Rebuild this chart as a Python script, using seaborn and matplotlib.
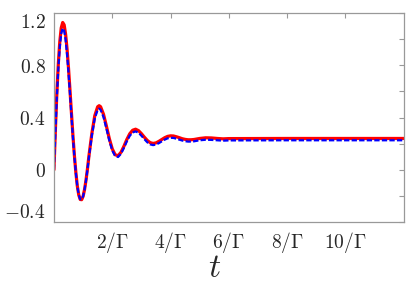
import pandas as pd
import matplotlib.pyplot as plt
import seaborn as sns

# values (time in units of 1/Gamma)
t = [0.00, 0.05, 0.10, 0.15, 0.20, 0.25, 0.30, 0.35, 0.40, 0.45,
     0.50, 0.55, 0.60, 0.65, 0.70, 0.75, 0.80, 0.85, 0.90, 0.95,
     1.00, 1.05, 1.10, 1.15, 1.20, 1.25, 1.30, 1.40, 1.50, 1.55,
     1.60, 1.70, 1.80, 1.90, 2.00, 2.10, 2.20, 2.30, 2.40, 2.50,
     2.60, 2.70, 2.80, 2.90, 3.00, 3.10, 3.20, 3.30, 3.40, 3.50,
     3.60, 3.70, 3.80, 3.90, 4.00, 4.10, 4.20, 4.30, 4.40, 4.50,
     4.60, 4.70, 4.80, 5.00, 5.20, 5.40, 5.60, 5.80, 6.00, 8.00,
     10.00, 12.00]
red = [0.000, 0.310, 0.586, 0.812, 0.980, 1.087, 1.128, 1.110, 1.038, 0.923,
       0.776, 0.609, 0.435, 0.266, 0.113, -0.017, -0.122, -0.192, -0.227, -0.229,
       -0.203, -0.150, -0.078, 0.008, 0.106, 0.192, 0.278, 0.414, 0.483, 0.491,
       0.483, 0.425, 0.334, 0.238, 0.160, 0.115, 0.108, 0.134, 0.180, 0.232,
       0.276, 0.303, 0.311, 0.300, 0.277, 0.250, 0.225, 0.208, 0.202, 0.206,
       0.218, 0.232, 0.246, 0.256, 0.260, 0.259, 0.253, 0.246, 0.238, 0.233,
       0.230, 0.230, 0.232, 0.240, 0.245, 0.244, 0.240, 0.237, 0.239, 0.240,
       0.240, 0.240]
blue = [0.000, 0.293, 0.559, 0.778, 0.940, 1.043, 1.083, 1.065, 0.996, 0.885,
        0.743, 0.582, 0.414, 0.251, 0.103, -0.022, -0.124, -0.191, -0.225, -0.227,
        -0.202, -0.151, -0.081, 0.002, 0.096, 0.179, 0.262, 0.394, 0.460, 0.468,
        0.460, 0.404, 0.316, 0.224, 0.148, 0.105, 0.098, 0.123, 0.168, 0.218,
        0.260, 0.286, 0.294, 0.284, 0.261, 0.235, 0.211, 0.195, 0.189, 0.193,
        0.204, 0.218, 0.231, 0.241, 0.245, 0.244, 0.238, 0.231, 0.224, 0.219,
        0.216, 0.216, 0.218, 0.226, 0.230, 0.229, 0.226, 0.223, 0.225, 0.226,
        0.226, 0.226]
xticks = [2, 4, 6, 8, 10]
xtick_labels = [r'$2/\Gamma$', r'$4/\Gamma$', r'$6/\Gamma$', r'$8/\Gamma$', r'$10/\Gamma$']
yticks = [-0.4, 0, 0.4, 0.8, 1.2]
ytick_labels = [r'$-0.4$', r'$0$', r'$0.4$', r'$0.8$', r'$1.2$']

sns.set_theme(style='white')
plt.rcParams['mathtext.fontset'] = 'cm'

df = pd.DataFrame({'t': t, 'red': red, 'blue': blue})

fig = plt.figure(figsize=(4.15, 2.91), dpi=100)
ax = fig.add_axes([0.130, 0.237, 0.843, 0.718])
sns.lineplot(data=df, x='t', y='red', color='red', lw=2.3, ax=ax)
sns.lineplot(data=df, x='t', y='blue', color='blue', lw=1.6, ax=ax)
ax.lines[-1].set_dashes([2.4, 1.0])

ax.set_xlim(0, 12)
ax.set_ylim(-0.4, 1.2)
ax.set_xticks(xticks)
ax.set_xticklabels(xtick_labels)
ax.set_yticks(yticks)
ax.set_yticklabels(ytick_labels)
ax.set_yticks([-0.2, 0.2, 0.6, 1.0], minor=True)
ax.tick_params(which='both', direction='in', top=True, right=True,
               length=3.5, width=0.8, color='#999999', labelsize=14, pad=6)
for lab in ax.get_yticklabels():
    if lab.get_text() == r'$1.2$':
        lab.set_va('top')
    elif lab.get_text() == r'$-0.4$':
        lab.set_va('bottom')
for s in ax.spines.values():
    s.set_color('#999999')
    s.set_linewidth(0.9)

ax.set_ylabel('')
ax.set_xlabel(r'$t$', fontsize=24, labelpad=0)
ax.xaxis.set_label_coords(0.46, -0.14)

fig.savefig('out.png', dpi=100)
